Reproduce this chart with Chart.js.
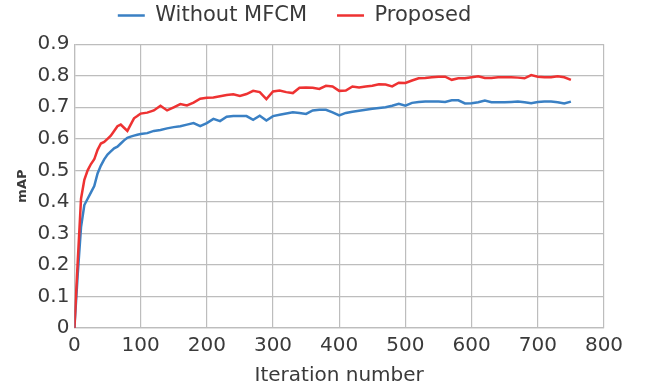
<!DOCTYPE html>
<html>
<head>
<meta charset="utf-8">
<script src="https://cdn.jsdelivr.net/npm/chart.js@4.4.1/dist/chart.umd.min.js"></script>
<style>
  body { margin: 0; background: #fff; }
  #wrap { width: 647px; height: 392px; }
</style>
</head>
<body>
<div id="wrap"><canvas id="map-chart"></canvas></div>
<script>
// mAP vs iteration number

const iterations = [
    0, 5, 10, 15, 20, 25, 30, 35, 40, 45, 50, 55, 60, 65, 70, 75, 80, 85, 90, 95, 100,
    110, 120, 130, 140, 150, 160, 170, 180, 190, 200,
    210, 220, 230, 240, 250, 260, 270, 280, 290, 300,
    310, 320, 330, 340, 350, 360, 370, 380, 390, 400,
    410, 420, 430, 440, 450, 460, 470, 480, 490, 500,
    510, 520, 530, 540, 550, 560, 570, 580, 590, 600,
    610, 620, 630, 640, 650, 660, 670, 680, 690, 700,
    710, 720, 730, 740, 750
];

const withoutMfcm = [
    0, 0.17, 0.32, 0.39, 0.41, 0.43, 0.45, 0.49, 0.515, 0.535, 0.55, 0.56, 0.57, 0.575, 0.585, 0.595, 0.603, 0.607, 0.61, 0.613, 0.615,
    0.618, 0.625, 0.628, 0.633, 0.637, 0.64, 0.645, 0.65, 0.64, 0.65,
    0.663, 0.656, 0.67, 0.672, 0.672, 0.672, 0.66, 0.673, 0.658, 0.672,
    0.676, 0.68, 0.684, 0.682, 0.679, 0.69, 0.692, 0.692, 0.684, 0.674,
    0.682, 0.686, 0.689, 0.692, 0.695, 0.698, 0.70, 0.705, 0.711, 0.705,
    0.714, 0.717, 0.718, 0.718, 0.718, 0.717, 0.722, 0.722, 0.712, 0.713,
    0.716, 0.721, 0.716, 0.716, 0.716, 0.717, 0.718, 0.716, 0.713, 0.717,
    0.718, 0.718, 0.716, 0.712, 0.718
];

const proposed = [
    0, 0.21, 0.41, 0.47, 0.50, 0.52, 0.535, 0.565, 0.585, 0.59, 0.60, 0.61, 0.625, 0.64, 0.645, 0.635, 0.625, 0.645, 0.665, 0.672, 0.68,
    0.683, 0.69, 0.705, 0.69, 0.70, 0.71, 0.706, 0.715, 0.727, 0.73,
    0.731, 0.735, 0.739, 0.741, 0.736, 0.742, 0.752, 0.748, 0.726, 0.75,
    0.753, 0.748, 0.745, 0.762, 0.763, 0.762, 0.758, 0.768, 0.766, 0.752,
    0.753, 0.766, 0.763, 0.766, 0.768, 0.773, 0.772, 0.766, 0.778, 0.777,
    0.785, 0.792, 0.793, 0.795, 0.797, 0.797, 0.787, 0.792, 0.792, 0.795,
    0.798, 0.793, 0.793, 0.795, 0.795, 0.795, 0.794, 0.792, 0.802, 0.797,
    0.795, 0.795, 0.798, 0.795, 0.787
];

const toPoints = (ys) => iterations.map((x, i) => ({ x: x, y: ys[i] }));

const GRID = '#bdbdbd';
const TEXT = '#3a3a3a';
Chart.defaults.font.family = '"DejaVu Sans", Verdana, sans-serif';

const MAP_Chart = document.getElementById('map-chart');

const mapChart = new Chart(MAP_Chart, {
    type: 'line',
    data: {
        datasets: [
            {
                label: 'Without MFCM',
                data: toPoints(withoutMfcm),
                borderColor: 'rgb(58, 128, 196)',
                backgroundColor: 'rgb(58, 128, 196)',
                borderWidth: 2.5,
                pointRadius: 0,
                order: 1,
            },
            {
                label: 'Proposed',
                data: toPoints(proposed),
                borderColor: 'rgb(238, 50, 50)',
                backgroundColor: 'rgb(238, 50, 50)',
                borderWidth: 2.5,
                pointRadius: 0,
                order: 0,
            },
        ],
    },
    options: {
        responsive: true,
        maintainAspectRatio: false,
        animation: false,
        // left padding is negative so the legend sits left of centre, the y title padding gives it back
        layout: {
            padding: { left: -15, right: 43, top: -25, bottom: 2 }
        },
        plugins: {
            tooltip: { enabled: false },
            legend: {
                position: 'top',
                labels: {
                    boxWidth: 27,
                    boxHeight: 0,
                    padding: 30,
                    color: TEXT,
                    font: { size: 21 },
                    sort: (a, b) => a.datasetIndex - b.datasetIndex,
                }
            },
            // empty title used only as a gap between legend and plot
            title: {
                display: true,
                text: '',
                weight: 100,
                font: { size: 1 },
                padding: { top: 0, bottom: 7 }
            }
        },
        scales: {
            x: {
                type: 'linear',
                min: 0,
                max: 800,
                ticks: { stepSize: 100, color: TEXT, font: { size: 20 }, padding: 6, maxRotation: 0 },
                grid: { color: GRID, lineWidth: 1.2, drawTicks: false },
                border: { color: GRID, width: 1.2 },
                title: { display: true, text: 'Iteration number', color: TEXT, font: { size: 20 }, padding: { top: 0, bottom: 2 } }
            },
            y: {
                min: 0,
                max: 0.9,
                ticks: { stepSize: 0.1, color: TEXT, font: { size: 20 }, padding: 5 },
                grid: { color: GRID, lineWidth: 1.2, drawTicks: false },
                border: { color: GRID, width: 1.2 },
                title: { display: true, text: 'mAP', color: TEXT, font: { size: 13, weight: 'bold' }, padding: { top: 30, bottom: 2 } }
            }
        }
    }
});
</script>
</body>
</html>
